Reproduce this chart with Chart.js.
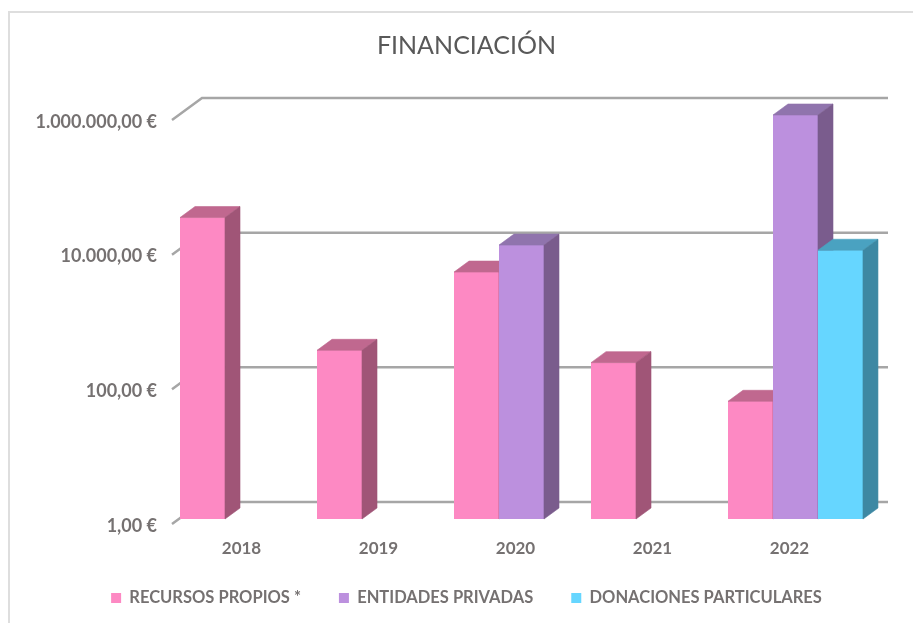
<!DOCTYPE html>
<html lang="es">
<head>
<meta charset="utf-8">
<title>Financiación</title>
<script src="https://cdn.jsdelivr.net/npm/chart.js@4.4.1/dist/chart.umd.min.js"></script>
<style>
  html, body { margin: 0; padding: 0; background: #fff; overflow: hidden; }
  .chart-box { position: relative; width: 913px; height: 623px; }
  .chart-box__frame {
    position: absolute; left: 8px; top: 11px; width: 1000px; height: 1000px;
    border-left: 2px solid #dedede; border-top: 2px solid #dedede;
  }
  .chart-box canvas { position: absolute; left: 0; top: 0; }
</style>
</head>
<body>
<div class="chart-box">
  <div class="chart-box__frame"></div>
  <canvas id="chart" width="913" height="623"></canvas>
</div>
<script>
const YEARS = ['2018', '2019', '2020', '2021', '2022'];
const RECURSOS_PROPIOS = [30000, 320, 4650, 210, 56];
const ENTIDADES_PRIVADAS = [null, null, 11700, null, 1000000];
const DONACIONES_PARTICULARES = [null, null, null, null, 9800];

const TICK_VALUES = [1, 100, 10000, 1000000];
const TICK_LABELS = ['1,00 €', '100,00 €', '10.000,00 €', '1.000.000,00 €'];

const SHADES = [
  { front: '#fd89c3', top: '#c0688f', side: '#a05577' },
  { front: '#bc90de', top: '#9074ad', side: '#7a5c8d' },
  { front: '#66d6ff', top: '#4aa2c1', side: '#3d88a3' },
];

const TEXT_GREY = '#757171';
const GRID_GREY = '#a6a6a6';
const PAD_LEFT = 69;
const PAD_RIGHT = 49;
// fake perspective: bar depth and back wall depth
const BAR_DX = 15;
const BAR_DY = -11;
const WALL_DY = -17;

function fillFace(ctx, color, points) {
  ctx.beginPath();
  points.forEach(([x, y], i) => (i ? ctx.lineTo(x, y) : ctx.moveTo(x, y)));
  ctx.closePath();
  ctx.fillStyle = color;
  ctx.strokeStyle = color;
  ctx.lineWidth = 0.6;
  ctx.fill();
  ctx.stroke();
}

const depthPlugin = {
  id: 'depth',
  afterLayout(chart) {
    // tick labels stick out of their boxes on purpose, so widen the clip areas
    chart.scales.y.left = 0;
    chart.scales.x.bottom = chart.height;
  },
  beforeDatasetsDraw(chart) {
    const { ctx, chartArea, scales } = chart;
    const frontX = chartArea.left - 7;
    const backX = chartArea.left + 23;
    const endX = chartArea.right + 24;
    ctx.save();
    ctx.strokeStyle = GRID_GREY;
    ctx.lineWidth = 2.5;
    TICK_VALUES.forEach((value) => {
      const y = scales.y.getPixelForValue(value);
      ctx.beginPath();
      ctx.moveTo(frontX, y + 5);
      ctx.lineTo(backX, y + WALL_DY);
      ctx.lineTo(endX, y + WALL_DY);
      ctx.stroke();
    });
    ctx.restore();
  },
  afterDatasetsDraw(chart) {
    const { ctx } = chart;
    const bars = [];
    chart.data.datasets.forEach((dataset, i) => {
      const meta = chart.getDatasetMeta(i);
      meta.data.forEach((bar, j) => {
        if (dataset.data[j] != null) bars.push({ bar, shade: SHADES[i] });
      });
    });
    // paint left to right so the next front face hides the previous side
    bars.sort((a, b) => a.bar.x - b.bar.x);
    ctx.save();
    bars.forEach(({ bar, shade }) => {
      const { x, y, base, width } = bar.getProps(['x', 'y', 'base', 'width'], true);
      const left = x - width / 2;
      const right = x + width / 2;
      bar.draw(ctx);
      fillFace(ctx, shade.top, [[left, y], [left + BAR_DX, y + BAR_DY], [right + BAR_DX, y + BAR_DY], [right, y]]);
      fillFace(ctx, shade.side, [[right, y], [right + BAR_DX, y + BAR_DY], [right + BAR_DX, base + BAR_DY], [right, base]]);
    });
    ctx.restore();
  },
};

function makeDataset(label, data, shade) {
  return {
    label,
    data,
    backgroundColor: shade.front,
    borderWidth: 0,
    categoryPercentage: 0.985,
    barPercentage: 1,
    clip: false,
  };
}

Chart.defaults.font.family = 'Lato';

new Chart(document.getElementById('chart'), {
  type: 'bar',
  data: {
    labels: YEARS,
    datasets: [
      makeDataset('RECURSOS PROPIOS *', RECURSOS_PROPIOS, SHADES[0]),
      makeDataset('ENTIDADES PRIVADAS', ENTIDADES_PRIVADAS, SHADES[1]),
      makeDataset('DONACIONES PARTICULARES', DONACIONES_PARTICULARES, SHADES[2]),
    ],
  },
  options: {
    responsive: false,
    animation: false,
    layout: { padding: { left: PAD_LEFT, right: PAD_RIGHT, top: 0, bottom: 6.75 } },
    scales: {
      x: {
        grid: { display: false, drawTicks: false },
        border: { display: false },
        ticks: {
          color: TEXT_GREY,
          font: { size: 17, weight: 'bold' },
          padding: 19,
          labelOffset: -6,
          maxRotation: 0,
        },
        afterFit: (scale) => { scale.height = 32.75; },
      },
      y: {
        type: 'logarithmic',
        min: 1,
        max: 1000000,
        grid: { display: false, drawTicks: false },
        border: { display: false },
        afterBuildTicks: (scale) => { scale.ticks = TICK_VALUES.map((value) => ({ value })); },
        ticks: {
          color: TEXT_GREY,
          font: { size: 18, weight: 'bold' },
          padding: 22,
          labelOffset: 7,
          callback: (value) => TICK_LABELS[TICK_VALUES.indexOf(value)] || '',
        },
        afterFit: (scale) => { scale.width = 179 - PAD_LEFT; },
      },
    },
    plugins: {
      title: {
        display: true,
        text: 'FINANCIACIÓN',
        color: '#595959',
        font: { size: 25, weight: 400 },
        padding: { top: 31, bottom: 54 },
      },
      legend: {
        position: 'bottom',
        labels: {
          boxWidth: 10,
          boxHeight: 10,
          padding: 38,
          color: TEXT_GREY,
          font: { size: 16.5, weight: 'bold' },
        },
      },
      tooltip: { enabled: false },
    },
  },
  plugins: [depthPlugin],
});
</script>
</body>
</html>
